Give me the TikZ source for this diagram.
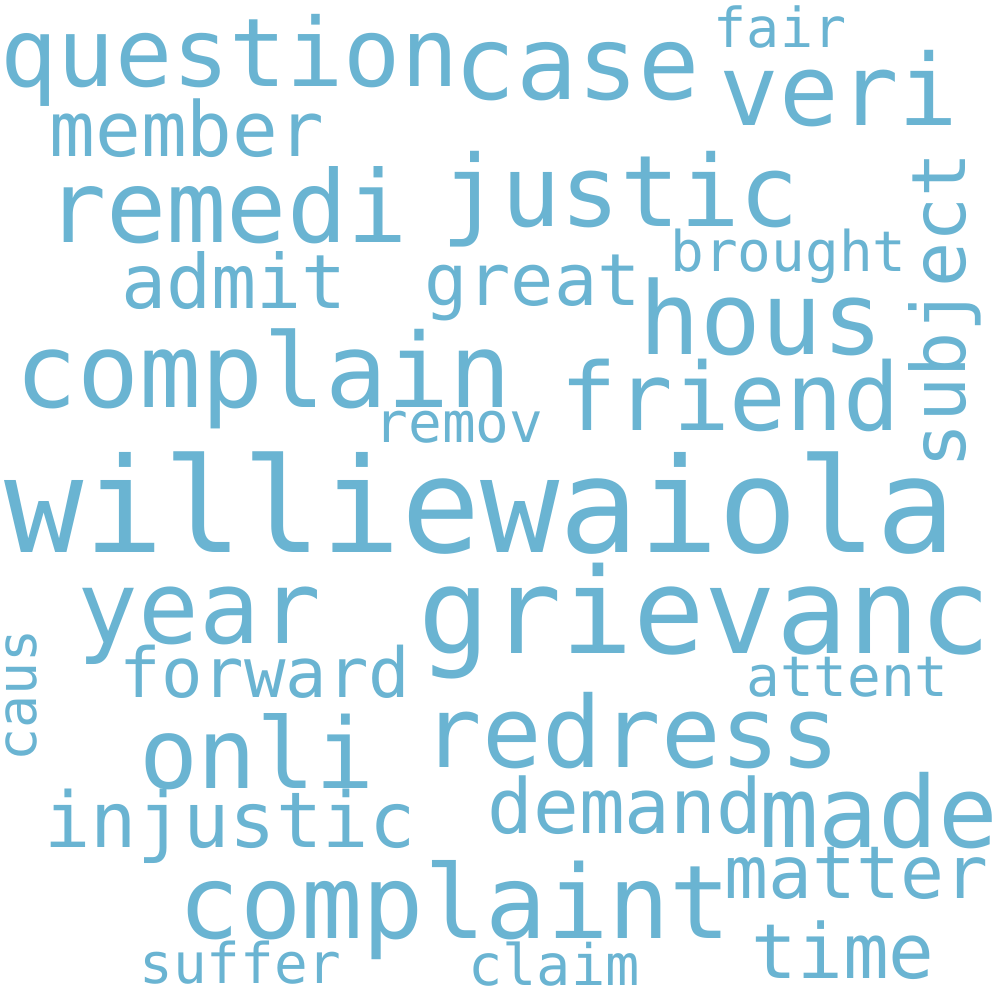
\documentclass[tikz,border=0pt]{standalone}
\usepackage{fontspec}
\newfontfamily\wcfam{DejaVu Sans Mono}
\definecolor{wc}{RGB}{106,180,210}
\tikzset{
  wd/.style={text=wc, inner sep=0pt, outer sep=0pt, anchor=base,
             font={\wcfam\fontsize{#1}{#1}\selectfont}},
  vwd/.style={wd=#1, rotate=90}
}
\begin{document}
\begin{tikzpicture}[x=1pt,y=-1pt]
\useasboundingbox[fill=white] (0,0) rectangle (1000,1000);
\node[wd=95]  (question)  at (229.5,87)  {question};
\node[wd=102] (case)      at (577.5,100) {case};
\node[wd=55]  (fair)      at (780,48)    {fair};
\node[wd=99]  (veri)      at (839,126)   {veri};
\node[wd=76]  (member)    at (187,157)   {member};
\node[wd=100] (remedi)    at (227,242)   {remedi};
\node[wd=99]  (justic)    at (620.5,227) {justic};
\node[wd=75]  (admit)     at (234,308)   {admit};
\node[wd=72]  (great)     at (532.5,305) {great};
\node[wd=56]  (brought)   at (788.5,271) {brought};
\node[wd=101] (hous)      at (761.5,354) {hous};
\node[vwd=75] (subject)   at (965,310)   {subject};
\node[wd=103] (complain)  at (264,407)   {complain};
\node[wd=94]  (friend)    at (730,430)   {friend};
\node[wd=56]  (remov)     at (459,442)   {remov};
\node[wd=131.7] (williewaiola) at (480.5,552) {williewaiola};
\node[wd=101] (year)      at (199.5,643) {year};
\node[wd=119] (grievanc)  at (705,653)   {grievanc};
\node[vwd=55] (caus)      at (36,695.5)  {caus};
\node[wd=69]  (forward)   at (265,697)   {forward};
\node[wd=56]  (attent)    at (847.5,696) {attent};
\node[wd=98]  (onli)      at (257,788)   {onli};
\node[wd=99]  (redress)   at (631.5,767) {redress};
\node[wd=77]  (injustic)  at (230,847)   {injustic};
\node[wd=76]  (demand)    at (625,833)   {demand};
\node[wd=99]  (made)      at (878.5,847) {made};
\node[wd=73]  (matter)    at (856.5,898) {matter};
\node[wd=102] (complaint) at (455,938)   {complaint};
\node[wd=76]  (time)      at (843,978)   {time};
\node[wd=56]  (suffer)    at (240.5,983) {suffer};
\node[wd=57]  (claim)     at (554,985)   {claim};
\end{tikzpicture}
\end{document}
